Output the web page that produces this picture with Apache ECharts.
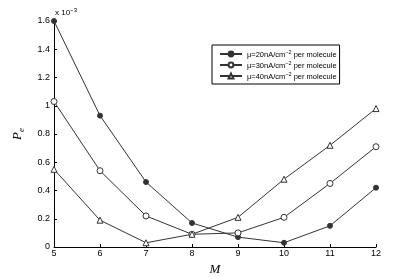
<!DOCTYPE html>
<html><head><meta charset="utf-8">
<script src="https://cdn.jsdelivr.net/npm/echarts@6/dist/echarts.min.js"></script>
<style>html,body{margin:0;padding:0;background:#fff}#c{width:415px;height:277px}</style>
</head><body><div id="c"></div>
<script>
var M = [5, 6, 7, 8, 9, 10, 11, 12];
var pe20 = [1.60, 0.93, 0.46, 0.17, 0.07, 0.03, 0.15, 0.42];
var pe30 = [1.03, 0.54, 0.22, 0.09, 0.10, 0.21, 0.45, 0.71];
var pe40 = [0.55, 0.19, 0.03, 0.09, 0.21, 0.48, 0.72, 0.98];
var names = ['μ=20nA/cm^-2 per molecule', 'μ=30nA/cm^-2 per molecule', 'μ=40nA/cm^-2 per molecule'];
var yTicks = [0, 0.2, 0.4, 0.6, 0.8, 1, 1.2, 1.4, 1.6];

function pairs(v){ return M.map(function(m,i){ return [m, v[i]]; }); }
var font = 'Liberation Sans, Arial, sans-serif';
var lineCol = '#333';
var chart = echarts.init(document.getElementById('c'));
function mk(name, data, symbol, size, fill){
  return {name:name, type:'line', data:pairs(data), symbol:symbol, symbolSize:size,
    lineStyle:{color:lineCol, width:1}, itemStyle:{color:fill, borderColor:lineCol, borderWidth:1},
    emphasis:{disabled:true}, z:3};
}
chart.setOption({
  animation:false,
  grid:{left:54, right:39, top:21, bottom:30, outerBoundsMode:'none', containLabel:false},
  legend:{
    left:212, top:45, orient:'vertical', itemGap:1, itemWidth:22, itemHeight:6,
    padding:[4,3,3,7], borderColor:'#000', borderWidth:1, backgroundColor:'#fff',
    formatter:function(n){ var p=n.split('^-2'); return '{a|'+p[0]+'}{s|−2}{a|'+p[1]+'}'; },
    textStyle:{fontFamily:font, fontSize:7.5, color:'#000',
      rich:{a:{fontFamily:font, fontSize:7.5, color:'#000', lineHeight:10, verticalAlign:'bottom'},
            s:{fontFamily:font, fontSize:5.5, color:'#000', lineHeight:10, verticalAlign:'top'}}},
    data:names
  },
  xAxis:{type:'value', min:5, max:12, interval:1, name:'M', nameLocation:'middle', nameGap:10,
    nameTextStyle:{fontFamily:'Liberation Serif, serif', fontStyle:'italic', fontSize:13, color:'#000'},
    axisLine:{lineStyle:{color:'#000', width:1}}, axisTick:{inside:true, length:3, lineStyle:{color:'#000'}},
    axisLabel:{fontFamily:font, fontSize:9, color:'#000', margin:2}, splitLine:{show:false}},
  yAxis:{type:'value', min:0, max:1.6, interval:0.2, name:'{p|P}{e|e}', nameLocation:'middle', nameGap:26, nameRotate:90,
    nameTextStyle:{rich:{p:{fontFamily:'Liberation Serif, serif', fontStyle:'italic', fontSize:13, color:'#000', lineHeight:16, verticalAlign:'top'},
                         e:{fontFamily:'Liberation Serif, serif', fontStyle:'italic', fontSize:9, color:'#000', lineHeight:16, verticalAlign:'bottom'}}},
    axisLine:{show:true, lineStyle:{color:'#000', width:1}}, axisTick:{show:true, inside:true, length:3, lineStyle:{color:'#000'}},
    axisLabel:{fontFamily:font, fontSize:9, color:'#000', margin:4,
      formatter:function(v){ var t=yTicks.reduce(function(a,b){return Math.abs(b-v)<Math.abs(a-v)?b:a;}); return String(t);} },
    splitLine:{show:false}},
  graphic:[{type:'text', left:55, top:7, style:{text:'{a|x 10}{s|−3}', rich:{a:{fontFamily:font, fontSize:8, fill:'#000', lineHeight:10, verticalAlign:'bottom'}, s:{fontFamily:font, fontSize:6, fill:'#000', lineHeight:10, verticalAlign:'top'}}}}],
  series:[
    mk(names[0], pe20, 'circle', 5, lineCol),
    mk(names[1], pe30, 'circle', 6, '#fff'),
    mk(names[2], pe40, 'triangle', 6, '#fff')
  ]
});
</script></body></html>
